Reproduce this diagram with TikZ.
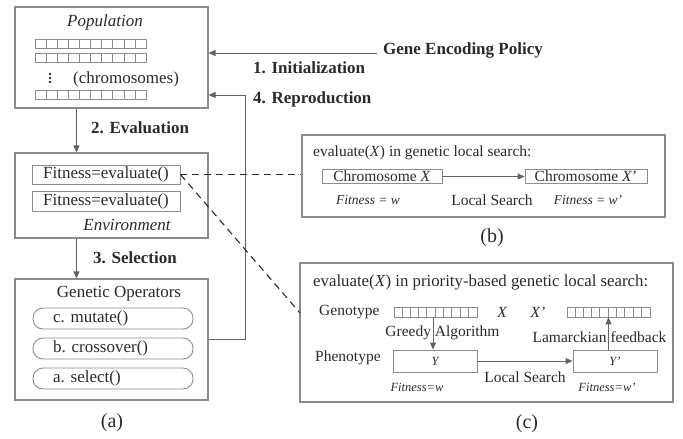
\documentclass[tikz,border=0pt]{standalone}
\usepackage{fontspec}
\setmainfont{Liberation Serif}
\usetikzlibrary{arrows.meta}
\definecolor{edge}{HTML}{8C8C8C}
\definecolor{ink}{HTML}{2A2A2A}
\newcommand{\fs}[1]{\fontsize{#1}{#1}\selectfont}
\tikzset{
  frame/.style={draw=edge, line width=1.1pt, rectangle, inner sep=0pt},
  ibox/.style={draw=edge, line width=0.9pt, rectangle, inner sep=0pt},
  capsule/.style={draw=edge, line width=0.9pt, rectangle, rounded corners=10pt, inner sep=0pt, minimum width=160pt, minimum height=21pt},
  strip/.style={draw=edge, line width=0.8pt, rectangle, inner sep=0pt},
  arr/.style={draw=edge!70!black, line width=0.9pt, -{Triangle[length=7pt,width=6pt]}},
  dashline/.style={draw=ink, line width=1.1pt, dash pattern=on 7pt off 5pt},
  txt/.style={text=ink, inner sep=0pt, font=\fs{17}},
  rtxt/.style={text=ink, inner sep=0pt, font=\fs{15.5}},
  btxt/.style={text=ink, inner sep=0pt, font=\fs{17}\bfseries},
  itxt/.style={text=ink, inner sep=0pt, font=\fs{17}\itshape},
  stxt/.style={text=ink, inner sep=0pt, font=\fs{12.5}\itshape},
  captxt/.style={text=ink, inner sep=0pt, font=\fs{20}},
}
\begin{document}
\begin{tikzpicture}[x=1pt,y=-1pt]
\useasboundingbox (0,0) rectangle (683,439);
% ---------- (a) left column ----------
\node[frame, minimum width=193pt, minimum height=101pt] (pop) at (111.5,57.5) {};
\node[itxt] (poplbl) at (105,22) {Population};
\foreach \yy/\nm in {44/r1,57.5/r2,94.5/r3}{
  \node[strip, minimum width=111pt, minimum height=9pt] (\nm) at (91,\yy) {};
  \foreach \k in {1,...,9}{\draw[edge, line width=0.8pt] ([xshift=\k*11.1pt]\nm.north west) -- ([xshift=\k*11.1pt]\nm.south west);}
}
\foreach \yy in {74,78,82}{\fill[ink] (50,\yy) circle (1.3pt);}
\node[txt, anchor=west] (chromlbl) at (73,79) {(chromosomes)};

\node[frame, minimum width=193pt, minimum height=85pt] (env) at (111.5,195.5) {};
\node[ibox, minimum width=148pt, minimum height=19pt, txt] (fit1) at (106,174.5) {Fitness=evaluate()};
\node[ibox, minimum width=148pt, minimum height=20pt, txt] (fit2) at (106,201) {Fitness=evaluate()};
\node[itxt] (envlbl) at (127,225) {Environment};

\node[frame, minimum width=193pt, minimum height=121pt] (ops) at (111.5,339.5) {};
\node[txt] (opslbl) at (119,294) {Genetic Operators};
\node[capsule] (opc) at (113,318.5) {};
\node[capsule] (opb) at (113,348.5) {};
\node[capsule] (opa) at (113,378.5) {};
\node[txt, anchor=west] (opct) at (53,318.5) {c. mutate()};
\node[txt, anchor=west] (opbt) at (53,348.5) {b. crossover()};
\node[txt, anchor=west] (opat) at (53,378.5) {a. select()};
\node[captxt] (capa) at (112,423) {(a)};

% arrows left
\draw[arr] ([xshift=62pt]pop.south west) -- ([xshift=62pt]env.north west);
\node[btxt, anchor=west] (evlbl) at (91,128) {2. Evaluation};
\draw[arr] ([xshift=62pt]env.south west) -- ([xshift=62pt]ops.north west);
\node[btxt, anchor=west] (sellbl) at (93,258) {3. Selection};

\node[btxt, anchor=west] (gene) at (383,50) {Gene Encoding Policy};
\coordinate (genestart) at (377,53);
\draw[arr] (genestart) -- (genestart -| pop.east);
\node[btxt, anchor=west] (initlbl) at (253,68) {1. Initialization};
\coordinate (rtop) at (245,95);
\draw[arr] (ops.east) -| (rtop) -- (rtop -| pop.east);
\node[btxt, anchor=west] (replbl) at (253,99) {4. Reproduction};

% ---------- (b) ----------
\node[frame, minimum width=363pt, minimum height=82pt] (boxb) at (483.5,176) {};
\node[rtxt, anchor=west] (btitle) at (313,153) {evaluate(\textit{X}) in genetic local search:};
\node[ibox, minimum width=120pt, minimum height=14pt, rtxt] (cx) at (382,176.5) {Chromosome \textit{X}};
\node[ibox, minimum width=122pt, minimum height=14pt, rtxt] (cx2) at (586,176.5) {Chromosome \textit{X}'};
\draw[arr] (cx.east) -- (cx2.west);
\node[stxt, font=\fs{13.5}\itshape] (bfit1) at (368,200) {Fitness = w};
\node[rtxt] (bls) at (492,200) {Local Search};
\node[stxt, font=\fs{13.5}\itshape] (bfit2) at (588,200) {Fitness = w'};
\node[captxt] (capb) at (492,238) {(b)};

% ---------- (c) ----------
\node[frame, minimum width=373pt, minimum height=139pt] (boxc) at (486.5,332.5) {};
\node[rtxt, font=\fs{16.8}, anchor=west] (ctitle) at (313,282) {evaluate(\textit{X}) in priority-based genetic local search:};
\node[rtxt, anchor=west] (geno) at (319,312) {Genotype};
\node[rtxt, anchor=west] (pheno) at (315,358) {Phenotype};
\foreach \xx/\nm in {435.5/sx,608.5/sx2}{
  \node[strip, minimum width=83pt, minimum height=10pt] (\nm) at (\xx,312) {};
  \foreach \k in {1,...,9}{\draw[edge, line width=0.8pt] ([xshift=\k*8.3pt]\nm.north west) -- ([xshift=\k*8.3pt]\nm.south west);}
}
\node[rtxt, font=\fs{15.5}\itshape] (xl) at (502,312) {X};
\node[rtxt, font=\fs{15.5}\itshape] (xl2) at (538,312) {X'};
\node[ibox, minimum width=84pt, minimum height=22pt, stxt] (yb) at (435,361) {Y};
\node[ibox, minimum width=84pt, minimum height=22pt, stxt] (yb2) at (615,361) {Y'};
\draw[arr] (sx.south -| 433,0) -- (yb.north -| 433,0);
\draw[arr] (yb2.north -| sx2.south) -- (sx2.south);
\draw[arr] (yb.east) -- (yb2.west);
\node[rtxt] (greedy) at (442.5,333) {Greedy Algorithm};
\node[rtxt] (lamarck) at (599.5,337) {Lamarckian feedback};
\node[rtxt] (cls) at (525,377) {Local Search};
\node[stxt] (cfit1) at (417,387) {Fitness=w};
\node[stxt] (cfit2) at (607,387) {Fitness=w'};
\node[captxt] (capc) at (527,424) {(c)};

% dashed links
\draw[dashline] (fit1.east) -- (fit1.east -| boxb.west);
\coordinate (cin) at (300,313);
\draw[dashline] (fit1.east) -- (cin);
\end{tikzpicture}
\end{document}
